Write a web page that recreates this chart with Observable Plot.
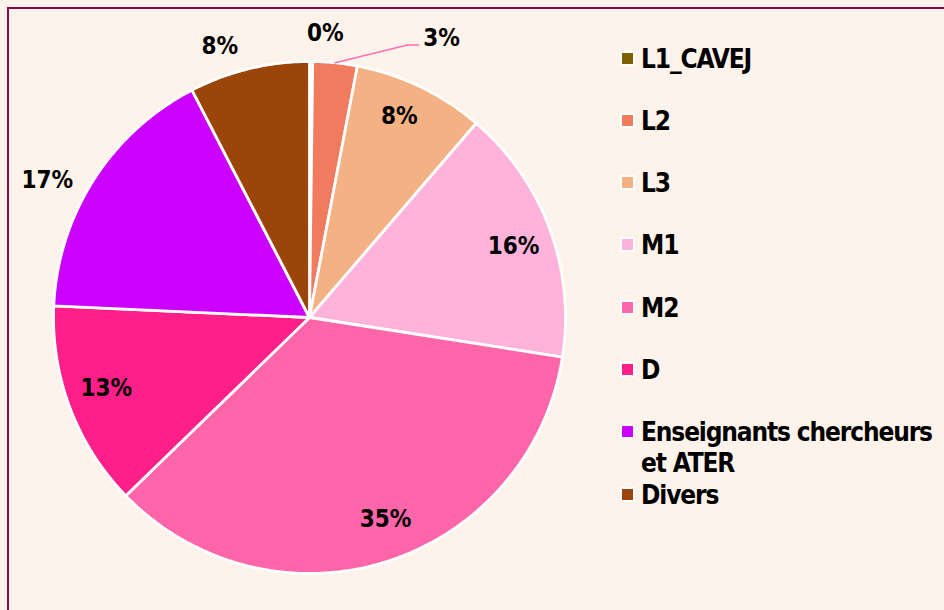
<!DOCTYPE html>
<html>
<head>
<meta charset="utf-8">
<script src="https://cdn.jsdelivr.net/npm/d3@7"></script>
<script src="https://cdn.jsdelivr.net/npm/@observablehq/plot@0.6"></script>
<style>
  html, body { margin: 0; padding: 0; }
  body { width: 944px; height: 610px; overflow: hidden; position: relative; background: #fef3ea;
         font-family: "DejaVu Sans Condensed", "DejaVu Sans", sans-serif; font-stretch: condensed; }
  #frame { position: absolute; left: 7px; top: 7px; width: 1000px; height: 700px;
           border-left: 2.5px solid #860a48; border-top: 2.5px solid #860a48; }
  #chart { position: absolute; left: 0; top: 0; }
  #legend { position: absolute; left: 0; top: 0; }
  .item { position: absolute; left: 620px; display: flex; align-items: flex-start; }
  .sw { width: 11px; height: 11px; border: 2.5px solid #fff; margin-top: 7px; flex: none; }
  .lab { margin-left: 6px; font-weight: bold; font-size: 26px; line-height: 31px; color: #000; width: 300px; }
</style>
</head>
<body>
<div id="frame"></div>
<div id="chart"></div>
<div id="legend"></div>
<script>
// ---- data ----
const categories = ["L1_CAVEJ", "L2", "L3", "M1", "M2", "D", "Enseignants chercheurs et ATER", "Divers"];
const shares = [0.2, 2.8, 8.3, 16.2, 35.3, 13.0, 16.7, 7.6];
const percentLabels = ["0%", "3%", "8%", "16%", "35%", "13%", "17%", "8%"];
const colors = ["#7f6000", "#f07b5f", "#f4b183", "#ffb3da", "#ff66aa", "#ff1f88", "#cc00ff", "#9c450b"];

// ---- layout (label placement, polar: radius in pie radii, angle clockwise from 12 o'clock) ----
const labelPlacement = {
  "L1_CAVEJ": {r: 1.113, deg: 3.2},
  "L2": {r: 1.207, deg: 25.3},
  "L3": {r: 0.86, deg: 24.1},
  "M1": {r: 0.844, deg: 70.8},
  "M2": {r: 0.844, deg: 159.4},
  "D": {r: 0.84, deg: 250.9},
  "Enseignants chercheurs et ATER": {r: 1.156, deg: 297.6},
  "Divers": {r: 1.117, deg: 341.7}
};
const FONT = "'DejaVu Sans Condensed', 'DejaVu Sans', sans-serif";

const rows = categories.map((c, i) => ({cat: c, share: shares[i], label: percentLabels[i]}));
const arcs = d3.pie().sort(null).value(d => d.share)(rows);

// slice polygons in unit coordinates (angle clockwise from 12 o'clock)
const slicePts = [];
for (const a of arcs) {
  const cat = a.data.cat;
  const n = Math.max(2, Math.ceil((a.endAngle - a.startAngle) / (Math.PI / 360)));
  slicePts.push({cat, x: 0, y: 0});
  for (let k = 0; k <= n; k++) {
    const t = a.startAngle + (a.endAngle - a.startAngle) * k / n;
    slicePts.push({cat, x: Math.sin(t), y: Math.cos(t)});
  }
  slicePts.push({cat, x: 0, y: 0});
}

// labels
const labelRows = arcs.map(a => {
  const cat = a.data.cat;
  const mid = (a.startAngle + a.endAngle) / 2;
  const o = labelPlacement[cat];
  const t = o.deg * Math.PI / 180;
  return {cat, label: a.data.label, x: o.r * Math.sin(t), y: o.r * Math.cos(t), mid};
});

// leader line for L2
const l2 = labelRows.find(d => d.cat === "L2");
const endPt = {x: l2.x - 0.09, y: l2.y - 0.027};
const leader = [
  {x: Math.sin(l2.mid), y: Math.cos(l2.mid)},
  {x: endPt.x - 0.043, y: endPt.y},
  endPt
];

const plot = Plot.plot({
  width: 944,
  height: 610,
  marginLeft: 53,
  marginRight: 379,
  marginTop: 61,
  marginBottom: 37,
  x: {domain: [-1, 1], axis: null},
  y: {domain: [-1, 1], axis: null},
  color: {domain: categories, range: colors},
  style: {background: "transparent", fontFamily: FONT},
  marks: [
    Plot.line(slicePts, {x: "x", y: "y", z: "cat", fill: "cat", stroke: "white", strokeWidth: 2.8, strokeLinejoin: "round"}),
    Plot.line(leader, {x: "x", y: "y", stroke: "#ff6fb0", strokeWidth: 1.6}),
    Plot.text(labelRows, {x: "x", y: "y", text: "label", fontSize: 24, fontWeight: "bold", fill: "#000", fontFamily: FONT})
  ]
});
document.getElementById("chart").appendChild(plot);

// legend (HTML); letter spacing fitted so the longest first line fits the frame
const ctx = document.createElement("canvas").getContext("2d");
ctx.font = "bold 26px " + FONT;
const firstLine = "Enseignants chercheurs";
const wFirst = ctx.measureText(firstLine).width;
const ls = Math.min(0, (292 - wFirst) / (firstLine.length - 1));

const legend = document.getElementById("legend");
categories.forEach((c, i) => {
  const cy = 59 + 62.3 * i;
  const item = document.createElement("div");
  item.className = "item";
  item.style.top = (cy - 15.5) + "px";
  const sw = document.createElement("div");
  sw.className = "sw";
  sw.style.background = colors[i];
  const lab = document.createElement("div");
  lab.className = "lab";
  lab.style.letterSpacing = ls + "px";
  lab.textContent = c;
  item.appendChild(sw);
  item.appendChild(lab);
  legend.appendChild(item);
});
</script>
</body>
</html>
